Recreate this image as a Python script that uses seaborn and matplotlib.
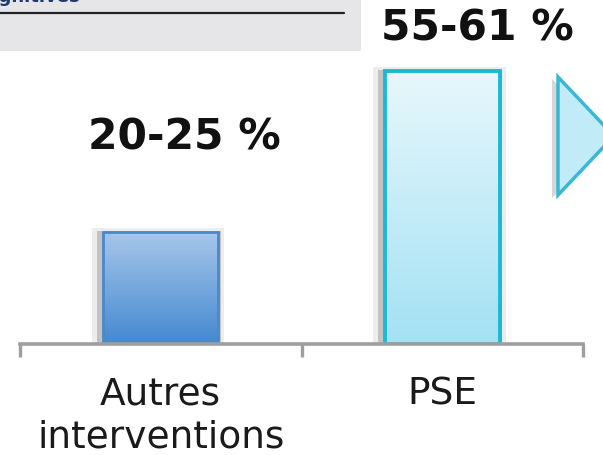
import numpy as np
import pandas as pd
import matplotlib
matplotlib.use('Agg')
import matplotlib.pyplot as plt
import seaborn as sns
from matplotlib.patches import Rectangle, Polygon
from matplotlib.colors import LinearSegmentedColormap

# data
categories = ['Autres\ninterventions', 'PSE']
values = [25, 61]
value_labels = ['20-25 %', '55-61 %']

sns.set_theme(style='white')
plt.rcParams['font.family'] = ['DejaVu Sans']

W, H = 603, 456
fig = plt.figure(figsize=(W / 100, H / 100), dpi=100)


def fx(px):
    return px / W


def fy(py):
    return 1 - py / H


# grey header box (cropped slide part)
fig.patches.append(Rectangle((0, fy(52)), fx(361), 52 / H, transform=fig.transFigure,
                             facecolor='#e6e6e8', edgecolor='none', zorder=0))
fig.add_artist(plt.Line2D([0, fx(344)], [fy(14), fy(14)], transform=fig.transFigure,
                          color='#222222', lw=1.6))
fig.text(fx(80), fy(2), 'Fonctions cognitives', ha='right', va='baseline',
         fontsize=13, fontweight='bold', color='#1f3a6e')

# right arrow (cropped)
arrow_shadow = Polygon([(fx(552), fy(80)), (fx(552), fy(199)), (fx(610), fy(139))],
                       closed=True, transform=fig.transFigure,
                       facecolor='#bdbdbd', edgecolor='none', alpha=0.6, zorder=1)
arrow = Polygon([(fx(558), fy(78)), (fx(558), fy(196)), (fx(614), fy(137))],
                closed=True, transform=fig.transFigure,
                facecolor='#c2ebf8', edgecolor='#38b8d4', lw=2.5, zorder=2)
fig.patches.append(arrow_shadow)
fig.patches.append(arrow)

# main axes: baseline at y=345 px, categories between x=20 and x=583 px
ax = fig.add_axes([fx(20), fy(345), fx(583) - fx(20), 345 / H])
ax.patch.set_alpha(0)

df = pd.DataFrame({'cat': categories, 'val': values})
sns.barplot(data=df, x='cat', y='val', hue='cat', ax=ax, width=0.41,
            palette=['#6a9fdc', '#c4ecf9'], legend=False, saturation=1)

gradients = [('#a7c6ea', '#4489d0'), ('#e8f7fc', '#a3e1f3')]
edges = ['#4a88cc', '#1cb8d8']
widths = [2.0, 2.8]
for patch, (c_top, c_bot), ec, lw in zip(ax.patches, gradients, edges, widths):
    x0, y0 = patch.get_x(), patch.get_y()
    w, h = patch.get_width(), patch.get_height()
    # soft shadow, mostly on the left
    ax.add_patch(Rectangle((x0 - 0.04, y0), w + 0.06, h + 0.9, facecolor='#e2e2e2',
                           edgecolor='none', alpha=0.6, zorder=1))
    ax.add_patch(Rectangle((x0 - 0.022, y0), w + 0.03, h + 0.3, facecolor='#b4b4b4',
                           edgecolor='none', alpha=0.75, zorder=1.5))
    cmap = LinearSegmentedColormap.from_list('g', [c_bot, c_top])
    grad = np.linspace(0, 1, 256).reshape(-1, 1)
    im = ax.imshow(grad, cmap=cmap, aspect='auto', origin='lower',
                   extent=[x0, x0 + w, y0, y0 + h], zorder=2)
    im.set_clip_path(patch)
    patch.set_facecolor('none')
    patch.set_edgecolor(ec)
    patch.set_linewidth(lw)
    patch.set_zorder(3)

ax.set_xlim(-0.5, 1.5)
ax.set_ylim(0, 77.1)
ax.set_xlabel('')
ax.set_ylabel('')
ax.set_yticks([])
for s in ['top', 'left', 'right']:
    ax.spines[s].set_visible(False)
ax.spines['bottom'].set_color('#9e9e9e')
ax.spines['bottom'].set_linewidth(2.6)
ax.spines['bottom'].set_zorder(4)

ax.set_xticks([-0.5, 0.5, 1.5], minor=True)
ax.tick_params(axis='x', which='minor', length=9.5, width=2.4, color='#9e9e9e',
               direction='out', bottom=True)
ax.tick_params(axis='x', which='major', length=0, pad=23, labelsize=27,
               labelcolor='#1a1a1a')
for lbl in ax.get_xticklabels():
    lbl.set_linespacing(1.22)

# value labels above bars
offsets = [(17, 69), (25, 31)]
for patch, txt, (dx, dy) in zip(ax.patches[:2], value_labels, offsets):
    ax.annotate(txt, (patch.get_x() + patch.get_width() / 2, patch.get_height()),
                xytext=(dx, dy), textcoords='offset points', ha='center', va='center',
                fontsize=30.5, fontweight='bold', color='#111111', annotation_clip=False)

fig.savefig('out.png', dpi=100)
